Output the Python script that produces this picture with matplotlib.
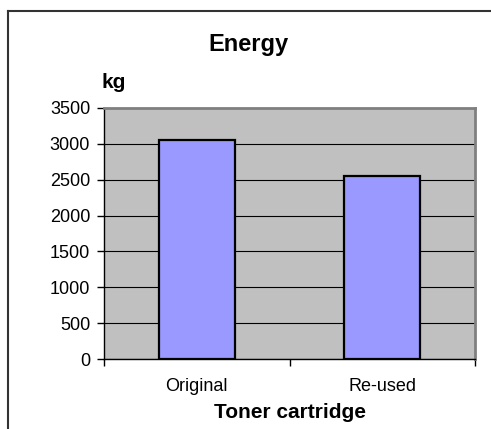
import numpy as np
from matplotlib import pyplot as plt
from matplotlib.lines import Line2D

categories = ["Original", "Re-used"]
values = [3055, 2550]
yticks = [0, 500, 1000, 1500, 2000, 2500, 3000, 3500]

plt.rcParams['font.family'] = ['Liberation Sans', 'DejaVu Sans']

fig = plt.figure(figsize=(4.91, 4.29), dpi=100)
fig.patch.set_facecolor('white')

# outer chart frame (cut off on right and bottom)
fig.add_artist(Line2D([8 / 491, 1.0], [1 - 11 / 429, 1 - 11 / 429],
                      transform=fig.transFigure, color='#333333', lw=1.5))
fig.add_artist(Line2D([8 / 491, 8 / 491], [0.0, 1 - 11 / 429],
                      transform=fig.transFigure, color='#333333', lw=1.5))

ax = fig.add_axes([104 / 491, 70 / 429, 371 / 491, 251 / 429])
ax.set_facecolor('#C0C0C0')

x = np.arange(len(categories))
ax.bar(x, values, width=0.41, color='#9999FF', edgecolor='black',
       linewidth=1.6, zorder=3)

ax.set_xlim(-0.5, len(categories) - 0.5)
ax.set_ylim(0, 3500)
ax.set_yticks(yticks)
ax.set_yticklabels([str(v) for v in yticks], fontsize=13)
ax.yaxis.grid(True, color='black', linewidth=0.8, zorder=1)
ax.set_axisbelow(True)

ax.set_xticks(x)
ax.set_xticklabels(categories, fontsize=13)
ax.tick_params(axis='x', which='major', length=0, pad=14)
ax.set_xticks([-0.5, 0.5, 1.5], minor=True)
ax.tick_params(axis='x', which='minor', length=5, direction='out', width=1)
ax.tick_params(axis='y', length=5, direction='out', width=1, pad=5)

for side in ['top', 'right']:
    ax.spines[side].set_color('#808080')
    ax.spines[side].set_linewidth(2)
for side in ['left', 'bottom']:
    ax.spines[side].set_color('black')
    ax.spines[side].set_linewidth(1)

fig.text(248 / 491, 1 - 44 / 429, 'Energy', ha='center', va='center',
         fontsize=17, fontweight='bold')
fig.text(114 / 491, 1 - 83 / 429, 'kg', ha='center', va='center',
         fontsize=15, fontweight='bold')
fig.text(290 / 491, 1 - 413 / 429, 'Toner cartridge', ha='center',
         va='center', fontsize=15, fontweight='bold')

fig.savefig('out.png', dpi=100)
